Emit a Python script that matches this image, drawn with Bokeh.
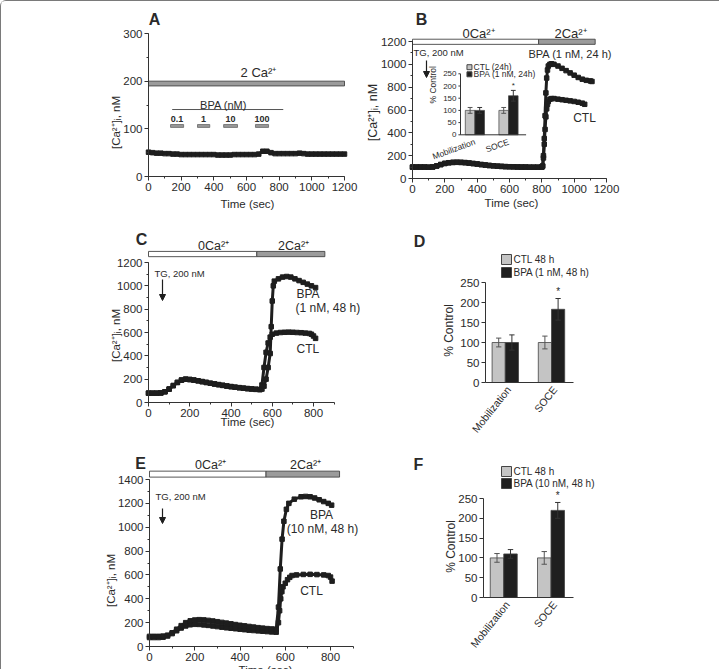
from math import pi
from bokeh.plotting import figure
from bokeh.layouts import row, column
from bokeh.models import Range1d, SingleIntervalTicker, FixedTicker, Label, Arrow, NormalHead
from bokeh.embed import file_html
from bokeh.resources import INLINE
from bokeh.core.properties import value

# ------------------------------------------------------------------ data
# Panel A: resting [Ca2+]i under 2 Ca2+ with acute BPA pulses
a_time = [0, 25, 50, 75, 100, 125, 150, 175, 200, 225, 250, 275, 300, 325, 350, 375, 400,
          425, 450, 475, 500, 525, 550, 575, 600, 625, 650, 675, 700, 725, 750, 775, 800,
          825, 850, 875, 900, 925, 950, 975, 1000, 1025, 1050, 1075, 1100, 1125, 1150, 1175, 1200]
a_ca = [51, 50, 49, 49, 48, 48, 47, 47, 46, 46, 46, 46, 46, 46, 46, 46, 46,
        45, 45, 45, 45, 46, 46, 46, 46, 46, 46, 47, 53, 53, 50, 48, 48,
        48, 48, 48, 48, 49, 48, 47, 47, 47, 47, 47, 47, 47, 47, 47, 47]
a_bath_edges = [0, 1200]
a_bpa_doses = ["0.1", "1", "10", "100"]
a_bpa_start = [135, 300, 460, 655]
a_bpa_end = [215, 375, 545, 735]
a_bpa_span = [145, 825]

# Panel B (24 h, 1 nM BPA)
b_base_t = [0, 25, 50, 75, 100, 125, 150, 175, 200, 225, 250, 275, 300, 325, 350, 375, 400,
            425, 450, 475, 500, 525, 550, 575, 600, 625, 650, 675, 700, 725, 750, 775, 800]
b_base_ca = [100, 100, 100, 100, 99, 101, 110, 122, 132, 138, 141, 142, 141, 139, 135, 131, 127,
             122, 118, 114, 111, 108, 106, 104, 103, 102, 101, 100, 100, 99, 99, 99, 100]
b_ctl_t = [805, 810, 815, 820, 825, 830, 835, 840, 850, 860, 875, 900, 925, 950, 975, 1000, 1025, 1050, 1065]
b_ctl_ca = [108, 180, 300, 430, 540, 610, 650, 675, 695, 700, 700, 695, 690, 685, 680, 675, 668, 660, 650]
b_bpa_t = [805, 810, 815, 820, 825, 830, 835, 840, 850, 860, 875, 900, 925, 950, 975, 1000, 1025, 1050, 1075, 1100, 1110]
b_bpa_ca = [110, 200, 350, 550, 750, 880, 950, 985, 1000, 1005, 1000, 985, 965, 945, 925, 905, 885, 870, 860, 855, 850]
b_phase_left = [0, 780]
b_phase_right = [780, 1130]

# Panel C (48 h, 1 nM BPA)
c_base_t = [0, 20, 40, 60, 80, 100, 120, 140, 160, 180, 200, 220, 240, 260, 280, 300, 320, 340,
            360, 380, 400, 420, 440, 460, 480, 500, 520, 540]
c_base_ca = [80, 80, 80, 82, 92, 115, 145, 172, 192, 200, 197, 192, 186, 179, 172, 165, 159, 153,
             147, 141, 136, 131, 127, 123, 119, 116, 113, 111]
c_ctl_t = [550, 560, 570, 580, 590, 600, 620, 640, 660, 680, 700, 720, 740, 760, 780, 790, 800, 810]
c_ctl_ca = [150, 300, 430, 510, 560, 585, 595, 600, 602, 603, 602, 600, 598, 595, 592, 585, 570, 550]
c_bpa_t = [550, 560, 570, 580, 590, 595, 600, 605, 610, 630, 650, 670, 690, 710, 730, 750, 770, 790, 810]
c_bpa_ca = [115, 140, 200, 300, 420, 650, 870, 1000, 1040, 1060, 1075, 1080, 1075, 1060, 1045, 1030, 1015, 1000, 985]
c_phase_left = [0, 525]
c_phase_right = [525, 855]

# Panel E (48 h, 10 nM BPA)
e_base_t = [0, 20, 40, 60, 80, 100, 120, 140, 160, 180, 200, 220, 240, 260, 280, 300, 320, 340,
            360, 380, 400, 420, 440, 460, 480, 500, 520, 540, 560]
e_bpa_base = [85, 85, 85, 87, 95, 115, 145, 175, 200, 215, 222, 225, 223, 219, 214, 208, 202, 196,
              190, 184, 178, 173, 168, 163, 158, 154, 150, 147, 145]
e_ctl_base = [75, 75, 75, 78, 88, 108, 132, 155, 172, 182, 186, 185, 181, 177, 172, 167, 162, 157,
              153, 149, 145, 141, 137, 134, 131, 128, 125, 122, 120]
e_bpa_t = [570, 578, 586, 594, 605, 616, 640, 670, 690, 710, 730, 750, 770, 790, 805]
e_bpa_ca = [330, 650, 900, 1050, 1150, 1200, 1235, 1255, 1258, 1255, 1245, 1230, 1215, 1200, 1185]
e_ctl_t = [570, 575, 580, 585, 590, 600, 610, 620, 630, 650, 680, 710, 740, 770, 790, 800, 807]
e_ctl_ca = [200, 300, 400, 460, 500, 530, 560, 580, 595, 600, 604, 605, 603, 600, 595, 582, 548]
e_phase_left = [0, 515]
e_phase_right = [515, 840]

# Bar charts (% control)
groups = ["Mobilization", "SOCE"]
group_pos = [0.9, 3.0]
bi_ctl = [100, 100]; bi_ctl_err = [12, 12]
bi_bpa = [100, 160]; bi_bpa_err = [12, 22]
d_ctl = [100, 100]; d_ctl_err = [11, 16]
d_bpa = [100, 183]; d_bpa_err = [19, 27]
f_ctl = [100, 100]; f_ctl_err = [11, 16]
f_bpa = [110, 220]; f_bpa_err = [11, 20]
pct_ticks = [0, 50, 100, 150, 200, 250]

# ------------------------------------------------------------------ style
FONT = "Liberation Sans"
INK = "#1e1e1e"
TXT = "#2a2a2a"
LIGHT = "#c4c4c4"
DARK = "#1f1f1f"
CA_GRAY = "#9b9b9b"
EDGE = "#444444"
OFF = 1
YLAB = "[Ca\u00b2\u207a]\u1d62, nM"


class Panel:
    """A figure whose frame fills its cell; axes are pinned inside at value 0.
    X/Y convert page pixels to data units (for placing annotations)."""

    def __init__(self, cx, cy, cw, ch, xv, xp, yv, yp):
        self.kx = (xv[1] - xv[0]) / (xp[1] - xp[0])
        self.x0v, self.x0p = xv[0], xp[0]
        self.ky = (yv[1] - yv[0]) / (yp[1] - yp[0])
        self.y0v, self.y0p = yv[0], yp[0]
        left_abs, top_abs = OFF + cx, OFF + cy
        self.p = figure(width=cw, height=ch, title=None,
                        x_range=Range1d(self.X(left_abs), self.X(left_abs + cw)),
                        y_range=Range1d(self.Y(top_abs + ch), self.Y(top_abs)),
                        min_border_left=0, min_border_right=0,
                        min_border_top=0, min_border_bottom=0,
                        output_backend="svg", toolbar_location=None)
        p = self.p
        p.outline_line_color = None
        p.xgrid.visible = False
        p.ygrid.visible = False
        p.background_fill_color = "white"
        p.border_fill_color = "white"
        p.xaxis.fixed_location = 0
        p.yaxis.fixed_location = 0
        for ax in p.axis:
            ax.axis_line_color = "#333333"
            ax.major_tick_line_color = "#333333"
            ax.minor_tick_line_color = "#333333"
            ax.major_tick_out = 4
            ax.major_tick_in = 0
            ax.minor_tick_out = 2
            ax.minor_tick_in = 0
            ax.major_label_text_font = FONT
            ax.major_label_text_font_size = "11.5px"
            ax.major_label_text_color = TXT
            ax.major_label_standoff = 2

    def X(self, px):
        return self.x0v + (px - self.x0p) * self.kx

    def Y(self, py):
        return self.y0v + (py - self.y0p) * self.ky

    def label(self, text, ax, ay, size="11.5px", align="center", baseline="middle",
              angle=0.0, bold=False):
        self.p.add_layout(Label(x=self.X(ax), y=self.Y(ay), text=text, text_font=FONT,
                                text_font_size=size, text_color=TXT, text_align=align,
                                text_baseline=baseline, angle=angle,
                                text_font_style="bold" if bold else "normal"))

    def arrow(self, ax, ay0, ay1):
        self.p.add_layout(Arrow(end=NormalHead(size=6, fill_color=INK, line_color=INK),
                                x_start=self.X(ax), y_start=self.Y(ay0),
                                x_end=self.X(ax), y_end=self.Y(ay1),
                                line_color=INK, line_width=1.2))

    def axes(self, xb, xint, yb, yint, xminor=2, yminor=2):
        p = self.p
        p.xaxis.bounds = xb
        p.yaxis.bounds = yb
        if xint:
            p.xaxis.ticker = SingleIntervalTicker(interval=xint, num_minor_ticks=xminor)
        if yint:
            p.yaxis.ticker = SingleIntervalTicker(interval=yint, num_minor_ticks=yminor)


def trace(p, t, v):
    p.line(t, v, line_width=3, line_color=INK)
    p.scatter(t, v, marker="square", size=4.5, fill_color=INK, line_color=INK)


def phase_bar(p, left, right, bottom, top):
    p.quad(left=left, right=right, bottom=bottom, top=top,
           fill_color=["white", CA_GRAY], line_color=EDGE, line_width=0.9)


def bars(p, ctl, ctl_err, bpa, bpa_err, cap, xr="default", yr="default", lw=0.8):
    xc = [g - 0.3 for g in group_pos]
    xb = [g + 0.3 for g in group_pos]
    kw = dict(x_range_name=xr, y_range_name=yr)
    p.vbar(x=xc, top=ctl, bottom=0, width=0.6, fill_color=LIGHT, line_color=EDGE, line_width=lw, **kw)
    p.vbar(x=xb, top=bpa, bottom=0, width=0.6, fill_color=DARK, line_color=EDGE, line_width=lw, **kw)
    for xs, vals, errs, col in ((xc, ctl, ctl_err, "#555555"), (xb, bpa, bpa_err, "#333333")):
        lo = [v - e for v, e in zip(vals, errs)]
        hi = [v + e for v, e in zip(vals, errs)]
        p.segment(x0=xs, y0=lo, x1=xs, y1=hi, line_color=col, line_width=1, **kw)
        p.segment(x0=[x - cap for x in xs], y0=hi, x1=[x + cap for x in xs], y1=hi,
                  line_color=col, line_width=1, **kw)
        p.segment(x0=[x - cap for x in xs], y0=lo, x1=[x + cap for x in xs], y1=lo,
                  line_color=col, line_width=1, **kw)


def bar_panel(P, ctl, ctl_err, bpa, bpa_err, star_size, cat_y):
    P.axes((0, 4), None, (0, 250), 50, yminor=0)
    p = P.p
    p.xaxis.ticker = FixedTicker(ticks=[])
    p.xaxis.major_label_text_font_size = "0px"
    bars(p, ctl, ctl_err, bpa, bpa_err, 0.12)
    p.text(x=[group_pos[1] + 0.3], y=[bpa[1] + bpa_err[1] + 3], text=["*"], text_font=value(FONT),
           text_font_size=star_size, text_color=TXT, text_align="center", text_baseline="bottom")
    p.text(x=[g + 0.15 for g in group_pos], y=[P.Y(cat_y)] * 2, text=groups, angle=0.9,
           text_font=value(FONT), text_font_size="10.5px", text_color=TXT,
           text_align="right", text_baseline="middle")


# ------------------------------------------------------------------ panel A
A = Panel(0, 0, 359, 215, (0, 1200), (148, 344), (0, 300), (176, 33))
A.axes((0, 1200), 200, (0, 300), 100)
pa = A.p
pa.quad(left=[a_bath_edges[0]], right=[a_bath_edges[1]], bottom=190, top=200,
        fill_color=CA_GRAY, line_color=EDGE, line_width=0.9)
pa.line(a_bpa_span, [140.5, 140.5], line_color="#555555", line_width=1)
pa.quad(left=a_bpa_start, right=a_bpa_end, bottom=103, top=109,
        fill_color=CA_GRAY, line_color="#666666", line_width=0.8)
pa.text(x=[(s + e) / 2 for s, e in zip(a_bpa_start, a_bpa_end)], y=[114] * 4, text=a_bpa_doses,
        text_font=value(FONT), text_font_size="9px", text_font_style="bold",
        text_color=TXT, text_align="center", text_baseline="bottom")
trace(pa, a_time, a_ca)
A.label("A", 154, 19, size="16px", bold=True)
A.label("2 Ca\u00b2\u207a", 258, 72, size="13px")
A.label("BPA (nM)", 223, 104, size="11px")
A.label("Time (sec)", 247, 203)
A.label(YLAB, 115, 122, angle=pi / 2)

# ------------------------------------------------------------------ panel B
B = Panel(359, 0, 359, 215, (0, 1200), (412, 606), (0, 1200), (178, 41))
B.axes((0, 1200), 200, (0, 1200), 200)
pb = B.p
phase_bar(pb, b_phase_left, b_phase_right, 1175, 1220)
trace(pb, b_base_t + b_ctl_t, b_base_ca + b_ctl_ca)
trace(pb, b_base_t + b_bpa_t, b_base_ca + b_bpa_ca)
B.label("B", 421, 19, size="16px", bold=True)
B.label("0Ca\u00b2\u207a", 478, 33, size="13px")
B.label("2Ca\u00b2\u207a", 570, 33, size="13px")
B.label("TG, 200 nM", 413, 52, size="9.5px", align="left")
B.arrow(426, 60, 77)
B.label("BPA (1 nM, 24 h)", 528, 53, size="11px", align="left")
B.label("CTL", 584, 117, size="12px")
B.label("Time (sec)", 511, 202)
B.label(YLAB, 372, 112, size="12.5px", angle=pi / 2)

# inset bar chart inside B (own scales)
ix0, ipx = 460, 16.0          # page x of inset value 0, px per unit
iy0, ipy = 134.3, 250 / 61.0  # page y of inset value 0, units per px
pb.extra_x_ranges = {"ix": Range1d((360 - ix0) / ipx, (719 - ix0) / ipx)}
pb.extra_y_ranges = {"iy": Range1d((iy0 - 216) * ipy, (iy0 - 1) * ipy)}
ik = dict(x_range_name="ix", y_range_name="iy")
bars(pb, bi_ctl, bi_ctl_err, bi_bpa, bi_bpa_err, 0.15, "ix", "iy", lw=0.7)
pb.segment(x0=[0, 0], y0=[0, 0], x1=[0, 4.1], y1=[250, 0], line_color="#333333", line_width=1, **ik)
pb.segment(x0=[-0.13] * 6, y0=pct_ticks, x1=[0] * 6, y1=pct_ticks, line_color="#333333", line_width=1, **ik)
pb.text(x=[-0.25] * 6, y=pct_ticks, text=[str(t) for t in pct_ticks], text_font=value(FONT),
        text_font_size="8px", text_color=TXT, text_align="right", text_baseline="middle", **ik)
pb.text(x=[-1.7], y=[205], text=["% Control"], angle=pi / 2, text_font=value(FONT),
        text_font_size="8.5px", text_color=TXT, text_align="center", text_baseline="middle", **ik)
pb.text(x=group_pos, y=[-27, -27], text=groups, angle=0.35, text_font=value(FONT),
        text_font_size="8.5px", text_color=TXT, text_align="right", text_baseline="middle", **ik)
pb.scatter(x=[0.56, 0.56], y=[277, 248], marker="square", size=5,
           fill_color=[LIGHT, DARK], line_color=EDGE, **ik)
pb.text(x=[0.82, 0.82], y=[277, 248], text=["CTL (24h)", "BPA (1 nM, 24h)"], text_font=value(FONT),
        text_font_size="8.5px", text_color=TXT, text_align="left", text_baseline="middle", **ik)
pb.text(x=[group_pos[1] + 0.3], y=[bi_bpa[1] + bi_bpa_err[1] + 2], text=["*"], text_font=value(FONT),
        text_font_size="8px", text_color=TXT, text_align="center", text_baseline="bottom", **ik)

# ------------------------------------------------------------------ panel C
C = Panel(0, 215, 359, 218, (0, 800), (148, 313), (0, 1200), (402, 262))
C.axes((0, 900), 200, (0, 1200), 200)
pc = C.p
phase_bar(pc, c_phase_left, c_phase_right, 1250, 1295)
trace(pc, c_base_t + c_ctl_t, c_base_ca + c_ctl_ca)
trace(pc, c_base_t + c_bpa_t, c_base_ca + c_bpa_ca)
C.label("C", 141, 239, size="16px", bold=True)
C.label("0Ca\u00b2\u207a", 213, 245, size="12.5px")
C.label("2Ca\u00b2\u207a", 293, 245, size="12.5px")
C.label("TG, 200 nM", 154, 273, size="9.5px", align="left")
C.arrow(162, 279, 300)
C.label("BPA", 296, 293, size="12px", align="left")
C.label("(1 nM, 48 h)", 295, 307, size="12px", align="left")
C.label("CTL", 296, 348, size="12px", align="left")
C.label("Time (sec)", 247, 421)
C.label(YLAB, 115, 335, angle=pi / 2)

# ------------------------------------------------------------------ panel D
D = Panel(359, 215, 359, 218, (0, 4), (485, 573), (0, 250), (382, 282))
bar_panel(D, d_ctl, d_ctl_err, d_bpa, d_bpa_err, "10px", 387)
pd = D.p
pd.scatter(x=[D.X(506), D.X(506)], y=[D.Y(259), D.Y(272)], marker="square", size=10,
           fill_color=[LIGHT, DARK], line_color=EDGE)
D.label("CTL 48 h", 513, 259, size="10px", align="left")
D.label("BPA (1 nM, 48 h)", 513, 272, size="10px", align="left")
D.label("D", 419, 241, size="16px", bold=True)
D.label("% Control", 448, 330, size="12px", angle=pi / 2)

# ------------------------------------------------------------------ panel E
E = Panel(0, 433, 359, 235, (0, 800), (149, 330), (0, 1400), (646, 479))
E.axes((0, 900), 200, (0, 1400), 200)
pe = E.p
phase_bar(pe, e_phase_left, e_phase_right, 1420, 1470)
trace(pe, e_base_t + e_ctl_t, e_ctl_base + e_ctl_ca)
trace(pe, e_base_t + e_bpa_t, e_bpa_base + e_bpa_ca)
E.label("E", 140, 463, size="16px", bold=True)
E.label("0Ca\u00b2\u207a", 210, 464, size="12.5px")
E.label("2Ca\u00b2\u207a", 305, 464, size="12.5px")
E.label("TG, 200 nM", 155, 496, size="9.5px", align="left")
E.arrow(162, 508, 523)
E.label("BPA", 321, 514, size="12px")
E.label("(10 nM, 48 h)", 322, 528, size="12px")
E.label("CTL", 311, 590, size="12px")
E.label("Time (sec)", 265, 663, baseline="top")
E.label(YLAB, 110, 580, angle=pi / 2)

# ------------------------------------------------------------------ panel F
F = Panel(359, 433, 359, 235, (0, 4), (483, 573), (0, 250), (597, 498))
bar_panel(F, f_ctl, f_ctl_err, f_bpa, f_bpa_err, "10px", 602)
pf = F.p
pf.scatter(x=[F.X(506), F.X(506)], y=[F.Y(471), F.Y(483)], marker="square", size=10,
           fill_color=[LIGHT, DARK], line_color=EDGE)
F.label("CTL 48 h", 513, 471, size="10px", align="left")
F.label("BPA (10 nM, 48 h)", 513, 483, size="10px", align="left")
F.label("F", 418, 464, size="16px", bold=True)
F.label("% Control", 450, 546, size="12px", angle=pi / 2)

layout = column(row(A.p, B.p), row(C.p, D.p), row(E.p, F.p),
                styles={"border-top": "1px solid #7a7a7a", "border-left": "1px solid #7a7a7a",
                        "border-top-left-radius": "6px"})

open("out.html", "w").write(file_html(layout, INLINE))
